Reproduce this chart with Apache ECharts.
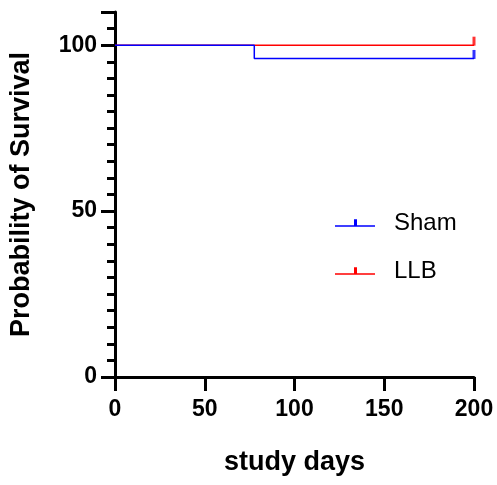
<!DOCTYPE html>
<html><head><meta charset="utf-8">
<script src="https://cdn.jsdelivr.net/npm/echarts@6/dist/echarts.min.js"></script>
<style>html,body{margin:0;padding:0;background:#fff}#c{width:497px;height:485px}</style>
</head><body><div id="c"></div>
<script>
const shamDays = [0, 77.6, 77.6, 200];
const shamSurv = [100, 100, 96, 96];
const llbDays = [0, 200];
const llbSurv = [100, 100];
const shamCensor = [[200, 96]];
const llbCensor = [[200, 100]];
const xTicks = [0, 50, 100, 150, 200];
const yTicks = [0, 50, 100];

const font = 'Liberation Sans, Arial, sans-serif';
const icon = 'path://M0,9h40v1.5h-40z M19,3h3v6.5h-3z';
const chart = echarts.init(document.getElementById('c'));
chart.setOption({
  animation: false,
  grid: {left: 109, right: 23, top: 12, bottom: 108},
  legend: {
    orient: 'vertical', left: 330, top: 206, itemGap: 24, itemWidth: 40, itemHeight: 16,
    textStyle: {fontFamily: font, fontSize: 24, color: '#000', padding: [0,0,0,14]},
    data: [{name: 'Sham', icon: icon, itemStyle: {color: '#0000ff'}},
           {name: 'LLB', icon: icon, itemStyle: {color: '#ff0000'}}]
  },
  xAxis: {
    type: 'value', min: 0, max: 200, interval: 50,
    name: 'study days', nameLocation: 'middle', nameGap: 72,
    nameTextStyle: {fontFamily: font, fontSize: 27, fontWeight: 'bold', color: '#000'},
    axisLine: {onZero: false, lineStyle: {color: '#000', width: 3}},
    axisTick: {length: 14, lineStyle: {color: '#000', width: 3}},
    axisLabel: {fontFamily: font, fontSize: 23, fontWeight: 'bold', color: '#000', margin: 21,
      formatter: v => xTicks.includes(v) ? String(v) : ''},
    splitLine: {show: false}
  },
  yAxis: {
    type: 'value', min: 0, max: 110, interval: 50,
    name: 'Probability of Survival', nameLocation: 'middle', nameGap: 80,
    nameTextStyle: {fontFamily: font, fontSize: 27, fontWeight: 'bold', color: '#000'},
    axisLine: {show: true, lineStyle: {color: '#000', width: 3}},
    axisTick: {length: 14, lineStyle: {color: '#000', width: 3}},
    minorTick: {show: true, splitNumber: 10, length: 8, lineStyle: {color: '#000', width: 3}},
    axisLabel: {fontFamily: font, fontSize: 23, fontWeight: 'bold', color: '#000', margin: 18,
      formatter: v => yTicks.includes(v) ? String(v) : ''},
    splitLine: {show: false}
  },
  series: [
    {name: 'LLB', type: 'line', data: llbDays.map((d,i)=>[d, llbSurv[i]]), showSymbol: false,
     lineStyle: {color: '#ff0000', width: 1.5}, itemStyle: {color: '#ff0000'}},
    {name: 'Sham', type: 'line', data: shamDays.map((d,i)=>[d, shamSurv[i]]), showSymbol: false,
     lineStyle: {color: '#0000ff', width: 1.5}, itemStyle: {color: '#0000ff'}},
    {name: 'LLB', type: 'scatter', data: llbCensor, symbol: 'rect', symbolSize: [3, 9], symbolOffset: [0, -4],
     itemStyle: {color: '#ff0000'}},
    {name: 'Sham', type: 'scatter', data: shamCensor, symbol: 'rect', symbolSize: [3, 9], symbolOffset: [0, -4],
     itemStyle: {color: '#0000ff'}}
  ]
});
</script></body></html>
